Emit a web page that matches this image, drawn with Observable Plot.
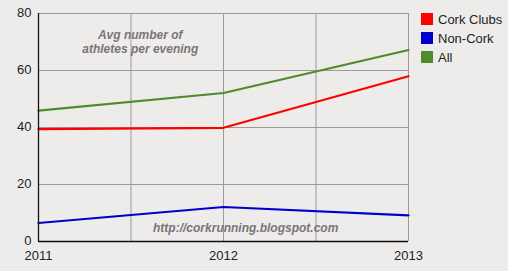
<!DOCTYPE html>
<html><head><meta charset="utf-8">
<script src="https://cdn.jsdelivr.net/npm/d3@7"></script>
<script src="https://cdn.jsdelivr.net/npm/@observablehq/plot@0.6"></script>
<style>
html,body{margin:0;padding:0;background:#eeeceb;}
#wrap{position:relative;width:508px;height:271px;overflow:hidden;font-family:"Liberation Sans",Arial,sans-serif;}
.lg{position:absolute;left:421px;font-size:13px;color:#222;line-height:13px;}
.lg span{display:inline-block;width:12px;height:12px;vertical-align:top;margin-right:5px;}
</style></head>
<body><div id="wrap"></div>
<script>
const years = [2011, 2012, 2013];
const seriesNames = ["Cork Clubs", "Non-Cork", "All"];
const seriesColors = ["#ff0000", "#0000cc", "#4f8a2c"];
const corkClubs = [39.4, 39.9, 58.0];
const nonCork = [6.5, 12.1, 9.2];
const all = [45.9, 52.1, 67.2];
const yTicks = [0, 20, 40, 60, 80];
const xGrid = [2011.5, 2012, 2012.5, 2013];
const yGrid = [20, 40, 60, 80];
const titleLines = ["Avg number of", "athletes per evening"];
const credit = "http://corkrunning.blogspot.com";

const rows = [];
[corkClubs, nonCork, all].forEach((vals, i) => vals.forEach((v, j) => rows.push({series: seriesNames[i], year: years[j], value: v})));

const chart = Plot.plot({
  width: 508, height: 271,
  marginLeft: 38, marginRight: 100, marginTop: 13, marginBottom: 30,
  style: {background: "transparent", fontFamily: "Liberation Sans, Arial, sans-serif", fontSize: "13px", color: "#222"},
  x: {domain: [2011, 2013], label: null},
  y: {domain: [0, 80], label: null},
  color: {domain: seriesNames, range: seriesColors},
  marks: [
    Plot.ruleX(xGrid, {stroke: "#9a9a9a", strokeWidth: 1}),
    Plot.ruleY(yGrid, {stroke: "#9a9a9a", strokeWidth: 1}),
    Plot.text(titleLines, {x: 2011.55, y: (d, i) => [72.3, 67.4][i], text: d => d, fill: "#7a7478", fontWeight: "bold", fontStyle: "italic", fontSize: 12}),
    Plot.text([credit], {x: 2012.12, y: 4.7, text: d => d, fill: "#7a7478", fontWeight: "bold", fontStyle: "italic", fontSize: 12}),
    Plot.line(rows, {x: "year", y: "value", z: "series", stroke: "series", strokeWidth: 2.2}),
    Plot.ruleX([2011], {stroke: "#111", strokeWidth: 1.3}),
    Plot.ruleY([0], {stroke: "#111", strokeWidth: 1.3}),
    Plot.axisX({ticks: years, tickFormat: d => String(d), tickSize: 0, tickPadding: 9, fontSize: 13}),
    Plot.axisY({ticks: yTicks, tickSize: 0, tickPadding: 7, fontSize: 13, dy: -1})
  ]
});
const wrap = document.getElementById("wrap");
wrap.appendChild(chart);
chart.style.position = "absolute"; chart.style.left = "0"; chart.style.top = "0";
seriesNames.forEach((n, i) => {
  const d = document.createElement("div");
  d.className = "lg";
  d.style.top = [13, 32, 51][i] + "px";
  const s = document.createElement("span"); s.style.background = seriesColors[i];
  d.appendChild(s); d.appendChild(document.createTextNode(n));
  wrap.appendChild(d);
});
</script></body></html>
